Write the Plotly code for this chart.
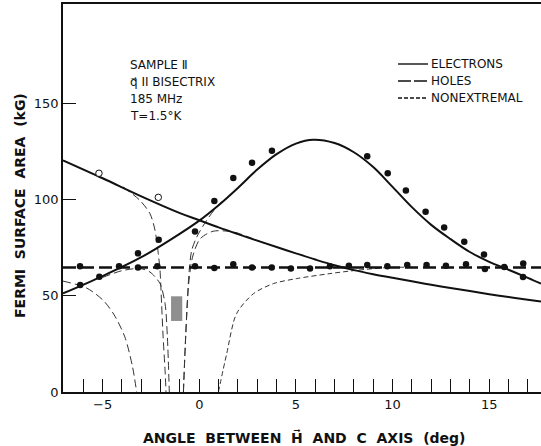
import plotly.graph_objects as go

# ---------------- data ----------------
# solid bell-shaped electron curve
bell_x = [-7.05, -5.0, -3.0, -1.5, 0.0, 1.0, 2.0, 3.0, 4.0, 5.0, 5.9, 7.0, 8.0, 9.0, 10.0, 11.0, 12.0, 13.0, 14.0, 15.0, 16.0, 17.0, 17.68]
bell_y = [51.2, 60.2, 70.0, 79.0, 89.0, 97.0, 106.0, 115.5, 123.5, 129.0, 131.0, 129.3, 124.5, 116.8, 106.5, 96.0, 86.8, 79.4, 72.7, 67.6, 63.5, 59.3, 56.3]

# solid descending curve
desc_x = [-7.05, -5.0, -3.0, -1.0, 0.0, 1.0, 2.0, 3.0, 4.0, 5.0, 6.0, 7.0, 8.0, 9.0, 10.0, 11.0, 12.0, 13.0, 14.0, 15.0, 16.0, 17.0, 17.68]
desc_y = [120.3, 111.0, 101.6, 92.9, 89.2, 85.5, 82.0, 78.6, 75.3, 72.0, 68.8, 65.8, 63.3, 61.2, 59.3, 57.5, 55.7, 54.0, 52.4, 50.8, 49.3, 47.9, 47.0]

# heavy long-dashed horizontal line (holes)
flat_x = [-7.05, 17.68]
flat_y = [64.6, 64.6]

# thin dashed branches
a_x = [-7.05, -5.83, -4.97, -4.4, -3.85, -3.45, -3.24]
a_y = [57.6, 54.0, 47.6, 40.0, 28.6, 13.0, 0.0]
b_x = [-3.93, -3.07, -2.55, -2.29, -2.12, -2.03, -1.95, -1.87, -1.77, -1.72]
b_y = [106.4, 99.5, 92.6, 84.0, 71.9, 63.2, 45.9, 28.6, 11.3, 0.0]
c_x = [-5.0, -4.0, -3.07, -2.55, -2.03, -1.77, -1.65, -1.55]
c_y = [59.5, 63.0, 64.1, 62.3, 56.3, 45.9, 28.6, 0.0]
d_x = [-0.82, -0.74, -0.62, -0.52, -0.39, -0.13, 0.38, 0.9, 1.33]
d_y = [0.0, 19.9, 45.9, 63.2, 73.6, 80.5, 89.1, 96.1, 100.4]
e_x = [-0.82, -0.7, -0.55, -0.35, 0.04, 0.72, 1.76, 2.79, 3.49]
e_y = [0.0, 30.0, 56.0, 70.0, 79.5, 83.5, 83.1, 79.6, 76.8]
f_x = [0.99, 1.42, 1.93, 2.81, 3.84, 5.04, 6.76, 8.14, 9.7, 11.0]
f_y = [0.0, 19.9, 40.7, 51.1, 56.3, 58.9, 61.5, 63.2, 64.6, 64.8]

# data points
el_x = [-6.16, -5.17, -3.17, -2.1, -0.22, 0.78, 1.76, 2.73, 3.76, 8.69, 9.75, 10.69, 11.71, 12.67, 13.71, 14.73, 16.75]
el_y = [55.6, 59.9, 72.0, 79.1, 83.4, 99.2, 111.1, 119.1, 125.3, 122.4, 113.6, 104.6, 93.6, 85.4, 78.0, 71.4, 59.7]
open_x = [-5.19, -2.12]
open_y = [113.6, 101.1]
fd_x = [-6.17, -4.15, -3.17, -2.17, -0.22, 0.78, 1.76, 2.73, 3.75, 4.74, 5.73, 6.76, 7.74, 8.69, 9.73, 10.76, 11.76, 12.76, 13.8, 14.78, 15.78, 16.76]
fd_y = [65.3, 65.3, 64.6, 65.3, 65.3, 64.4, 66.4, 64.7, 64.6, 64.2, 64.2, 65.3, 65.6, 65.9, 65.3, 65.9, 65.9, 65.6, 66.3, 63.9, 64.9, 66.7]

# shaded block
rect_x = [-1.46, -0.88]
rect_y = [36.9, 49.7]

x_tickvals = [-5, 0, 5, 10, 15]
y_tickvals = [0, 50, 100, 150]
info_lines = ["SAMPLE \u2161", "q\u20d7 II BISECTRIX", "185 MHz", "T=1.5\u00b0K"]
legend_labels = ["ELECTRONS", "HOLES", "NONEXTREMAL"]

# ---------------- figure ----------------
W, H = 541, 446
PL, PR, PT, PB = 63, 541, 4, 392
def fx(px): return (px - PL) / (PR - PL)
def fy(py): return (PB - py) / (PB - PT)

INK = "#111111"
FONT = "DejaVu Sans"
fig = go.Figure()

def curve(x, y, width, dash=None, color=INK, smoothing=0.8):
    fig.add_trace(go.Scatter(x=x, y=y, mode="lines",
                             line=dict(color=color, width=width, dash=dash, shape="spline", smoothing=smoothing),
                             showlegend=False, hoverinfo="skip"))

fig.add_shape(type="rect", xref="x", yref="y", x0=rect_x[0], x1=rect_x[1], y0=rect_y[0], y1=rect_y[1],
              fillcolor="#8f8f8f", line=dict(width=0))

for cx, cy in [(a_x, a_y), (b_x, b_y), (c_x, c_y), (d_x, d_y), (e_x, e_y)]:
    curve(cx, cy, 1, "8px,4px", "#333333")
curve(f_x, f_y, 1, "5px,3px", "#333333")
curve(bell_x, bell_y, 2, smoothing=1.0)
curve(desc_x, desc_y, 2, smoothing=1.0)
fig.add_trace(go.Scatter(x=flat_x, y=flat_y, mode="lines",
                         line=dict(color=INK, width=2.5, dash="13px,5px"),
                         showlegend=False, hoverinfo="skip"))

fig.add_trace(go.Scatter(x=el_x, y=el_y, mode="markers",
                         marker=dict(color=INK, size=6.5), showlegend=False))
fig.add_trace(go.Scatter(x=fd_x, y=fd_y, mode="markers",
                         marker=dict(color=INK, size=6.5), showlegend=False))
fig.add_trace(go.Scatter(x=open_x, y=open_y, mode="markers",
                         marker=dict(color="white", size=6.5, line=dict(color=INK, width=1)),
                         showlegend=False))

annots = []
for i, t in enumerate(info_lines):
    annots.append(dict(text=t, x=fx(128), y=fy(65 + i * 17), xref="paper", yref="paper",
                       xanchor="left", yanchor="middle", showarrow=False,
                       font=dict(size=12, color=INK, family=FONT)))
leg_y = [64, 81, 98]
leg_dash = ["solid", "13px,3px", "4px,2px"]
for lab, ly, ld in zip(legend_labels, leg_y, leg_dash):
    annots.append(dict(text=lab, x=fx(429), y=fy(ly), xref="paper", yref="paper",
                       xanchor="left", yanchor="middle", showarrow=False,
                       font=dict(size=12, color=INK, family=FONT)))
    fig.add_shape(type="line", xref="paper", yref="paper", x0=fx(398), x1=fx(428), y0=fy(ly), y1=fy(ly),
                  line=dict(color=INK, width=1.4, dash=ld))

annots.append(dict(text="<b>ANGLE  BETWEEN  H\u20d7  AND  C  AXIS  (deg)</b>", x=fx(304), y=fy(437),
                   xref="paper", yref="paper", xanchor="center", yanchor="middle", showarrow=False,
                   font=dict(size=14, color=INK, family=FONT)))
annots.append(dict(text="<b>FERMI  SURFACE  AREA  (kG)</b>", x=fx(20), y=fy(206), textangle=-90,
                   xref="paper", yref="paper", xanchor="center", yanchor="middle", showarrow=False,
                   font=dict(size=14, color=INK, family=FONT)))

fig.update_layout(
    width=W, height=H, margin=dict(l=PL, r=W - PR, t=PT, b=H - PB),
    paper_bgcolor="white", plot_bgcolor="white",
    font=dict(family=FONT, color=INK, size=13),
    annotations=annots, showlegend=False,
    xaxis=dict(range=[-7.05, 17.68], showgrid=False, zeroline=False,
               showline=True, linecolor=INK, linewidth=1.5, mirror=True,
               tickvals=x_tickvals, ticks="inside", ticklen=13, tickwidth=1, tickcolor=INK,
               minor=dict(dtick=1, tick0=0, ticks="inside", ticklen=13, tickwidth=1, tickcolor=INK),
               tickfont=dict(size=13)),
    yaxis=dict(range=[0, 201.5], showgrid=False, zeroline=False,
               showline=True, linecolor=INK, linewidth=1.5,
               tickvals=y_tickvals, ticks="inside", ticklen=13, tickwidth=1, tickcolor=INK,
               tickfont=dict(size=13)),
)

fig.write_html("out.html")
